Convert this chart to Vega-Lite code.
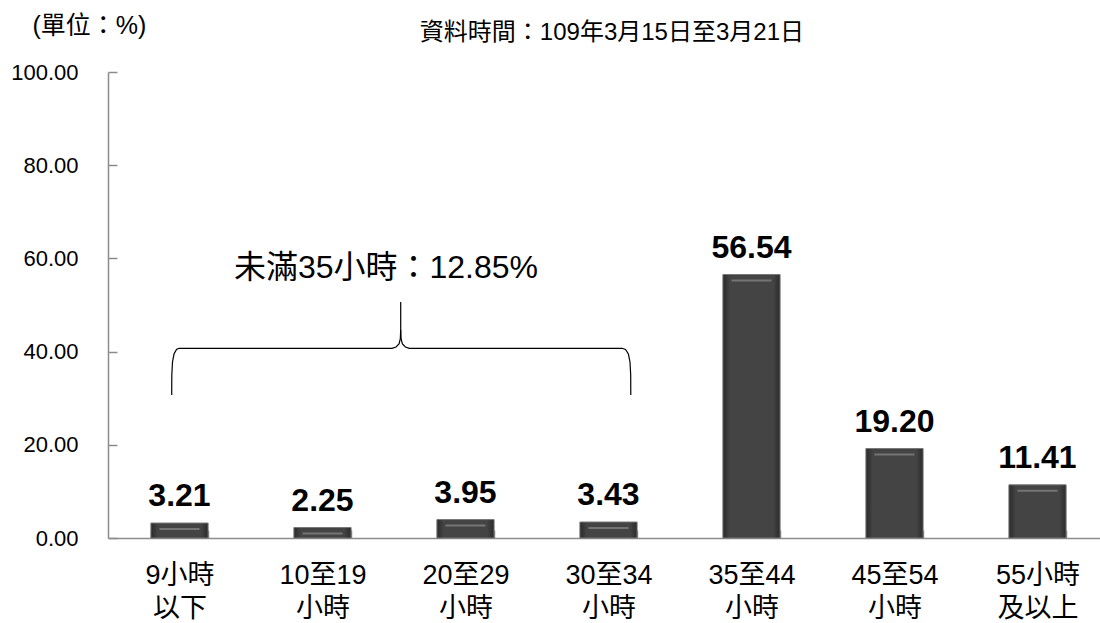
{
  "$schema": "https://vega.github.io/schema/vega-lite/v6.json",
  "autosize": "none",
  "width": 992,
  "height": 466,
  "padding": {"left": 108, "top": 72, "right": 0, "bottom": 85},
  "background": "white",
  "config": {
    "view": {"stroke": null},
    "font": "Liberation Sans, Noto Sans CJK TC, sans-serif"
  },
  "datasets": {
    "bars": [
      {"group": "9小時|以下", "value": 3.21},
      {"group": "10至19|小時", "value": 2.25},
      {"group": "20至29|小時", "value": 3.95},
      {"group": "30至34|小時", "value": 3.43},
      {"group": "35至44|小時", "value": 56.54},
      {"group": "45至54|小時", "value": 19.20},
      {"group": "55小時|及以上", "value": 11.41}
    ],
    "brace": [
      {"seg": "a", "i": 1, "bx": 0.4455, "by": 30.69},
      {"seg": "a", "i": 2, "bx": 0.4462, "by": 34.98},
      {"seg": "a", "i": 3, "bx": 0.4510, "by": 37.77},
      {"seg": "a", "i": 4, "bx": 0.4615, "by": 39.48},
      {"seg": "a", "i": 5, "bx": 0.4790, "by": 40.45},
      {"seg": "a", "i": 6, "bx": 0.4965, "by": 40.71},
      {"seg": "a", "i": 7, "bx": 1.9860, "by": 40.71},
      {"seg": "a", "i": 8, "bx": 2.0140, "by": 40.99},
      {"seg": "a", "i": 9, "bx": 2.0350, "by": 41.63},
      {"seg": "a", "i": 10, "bx": 2.0441, "by": 42.70},
      {"seg": "a", "i": 11, "bx": 2.0469, "by": 44.64},
      {"seg": "a", "i": 12, "bx": 2.0469, "by": 50.64},
      {"seg": "b", "i": 1, "bx": 2.0469, "by": 44.64},
      {"seg": "b", "i": 2, "bx": 2.0497, "by": 42.70},
      {"seg": "b", "i": 3, "bx": 2.0587, "by": 41.63},
      {"seg": "b", "i": 4, "bx": 2.0797, "by": 40.99},
      {"seg": "b", "i": 5, "bx": 2.1077, "by": 40.71},
      {"seg": "b", "i": 6, "bx": 3.5944, "by": 40.71},
      {"seg": "b", "i": 7, "bx": 3.6189, "by": 40.45},
      {"seg": "b", "i": 8, "bx": 3.6392, "by": 39.48},
      {"seg": "b", "i": 9, "bx": 3.6503, "by": 37.77},
      {"seg": "b", "i": 10, "bx": 3.6552, "by": 34.98},
      {"seg": "b", "i": 11, "bx": 3.6559, "by": 30.69}
    ],
    "note": [
      {"tx": 1.944, "ty": 57.9, "label": "未滿35小時：12.85%", "size": 32},
      {"tx": 3.524, "ty": 108.4, "label": "資料時間：109年3月15日至3月21日", "size": 24}
    ]
  },
  "layer": [
    {
      "data": {"name": "bars"},
      "encoding": {
        "x": {
          "field": "group",
          "type": "nominal",
          "sort": null,
          "scale": {"range": [0, 1001], "paddingInner": 0.6, "paddingOuter": 0.3},
          "axis": {
            "title": null,
            "labelExpr": "split(datum.label, '|')",
            "labelAngle": 0,
            "labelFontSize": 27,
            "labelLineHeight": 33,
            "labelColor": "#000000",
            "labelBaseline": "top",
            "labelPadding": 32,
            "tickBand": "extent",
            "tickSize": -8,
            "tickColor": "#8c8c8c",
            "tickWidth": 1.5,
            "domainColor": "#8c8c8c",
            "domainWidth": 1.5
          }
        },
        "y": {
          "field": "value",
          "type": "quantitative",
          "scale": {"domain": [0, 100], "nice": false},
          "axis": {
            "title": "(單位：%)",
            "titleAngle": 0,
            "titleAlign": "left",
            "titleBaseline": "middle",
            "titleX": -76,
            "titleY": -47,
            "titleFontSize": 25,
            "titleFontWeight": "normal",
            "titleColor": "#000000",
            "values": [0, 20, 40, 60, 80, 100],
            "format": ".2f",
            "labelFontSize": 22,
            "labelColor": "#000000",
            "labelPadding": 39,
            "grid": false,
            "tickSize": -9,
            "tickColor": "#8c8c8c",
            "tickWidth": 1.5,
            "domainColor": "#8c8c8c",
            "domainWidth": 1.5
          }
        }
      },
      "layer": [
        {
          "mark": {
            "type": "bar",
            "fill": {
              "gradient": "linear",
              "x1": 0, "x2": 1, "y1": 0, "y2": 0,
              "stops": [
                {"offset": 0, "color": "#2a2a2a"},
                {"offset": 0.12, "color": "#444444"},
                {"offset": 0.88, "color": "#444444"},
                {"offset": 1, "color": "#2a2a2a"}
              ]
            },
            "stroke": "#777777",
            "strokeWidth": 1
          }
        },
        {
          "mark": {"type": "tick", "orient": "horizontal", "color": "#8a8a8a", "size": 40, "thickness": 2, "yOffset": 6}
        },
        {
          "mark": {"type": "text", "fontSize": 32, "fontWeight": "bold", "baseline": "alphabetic", "dy": -17, "color": "#000000"},
          "encoding": {
            "text": {"field": "value", "type": "quantitative", "format": ".2f"}
          }
        }
      ]
    },
    {
      "encoding": {
        "x": {"type": "quantitative", "scale": {"domain": [0, 7], "range": [0, 1001]}, "axis": null},
        "y": {"type": "quantitative"}
      },
      "layer": [
        {
          "data": {"name": "brace"},
          "mark": {"type": "line", "color": "#000000", "strokeWidth": 1.2},
          "encoding": {
            "x": {"field": "bx", "type": "quantitative"},
            "y": {"field": "by", "type": "quantitative"},
            "detail": {"field": "seg", "type": "nominal"},
            "order": {"field": "i", "type": "quantitative"}
          }
        },
        {
          "data": {"name": "note"},
          "mark": {"type": "text", "baseline": "middle", "align": "center", "color": "#000000"},
          "encoding": {
            "x": {"field": "tx", "type": "quantitative"},
            "y": {"field": "ty", "type": "quantitative"},
            "text": {"field": "label", "type": "nominal"},
            "size": {"field": "size", "type": "quantitative", "scale": null}
          }
        }
      ]
    }
  ],
  "resolve": {"scale": {"x": "independent"}}
}
